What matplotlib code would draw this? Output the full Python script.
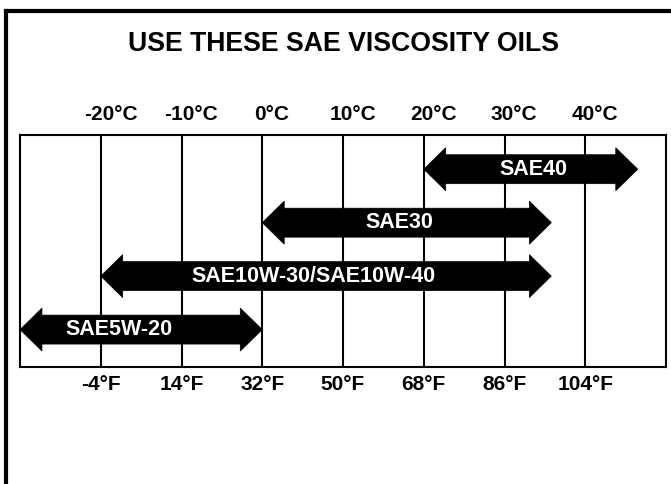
import matplotlib
matplotlib.use("Agg")
import matplotlib.pyplot as plt
import matplotlib.transforms as mtransforms
from matplotlib.patches import Polygon
from matplotlib.lines import Line2D

# ---- data ----
title = "USE THESE SAE VISCOSITY OILS"
celsius_ticks = [-20, -10, 0, 10, 20, 30, 40]
celsius_labels = ["-20°C", "-10°C", "0°C", "10°C", "20°C", "30°C", "40°C"]
fahrenheit_labels = ["-4°F", "14°F", "32°F", "50°F", "68°F", "86°F", "104°F"]
oils = ["SAE40", "SAE30", "SAE10W-30/SAE10W-40", "SAE5W-20"]
temp_low = [20, 0, -20, -30]
temp_high = [46.5, 35.8, 35.8, 0]
label_at = [33.6, 17, 6.4, -17.7]

W, H = 671, 484
fig = plt.figure(figsize=(W / 100, H / 100), dpi=100)
fig.patch.set_facecolor("white")
plt.rcParams['font.family'] = ['Liberation Sans', 'DejaVu Sans']

# outer frame (left and top edges)
fig.add_artist(Line2D([6 / W, 6 / W], [0, 1 - 11 / H], transform=fig.transFigure,
                      color="black", lw=3, solid_capstyle="projecting"))
fig.add_artist(Line2D([6 / W, 1.02], [1 - 11 / H, 1 - 11 / H], transform=fig.transFigure,
                      color="black", lw=3, solid_capstyle="projecting"))

fig.text(343.5 / W, 1 - 44 / H, title, ha="center", va="center",
         fontsize=19.2, fontweight="bold")

left, right, top, bottom = 20, 666, 135, 367
ax = fig.add_axes([left / W, 1 - bottom / H, (right - left) / W, (bottom - top) / H])
ax.set_xlim(-30, 50)
ax.set_ylim(3.7, -0.64)
ax.set_xticks([])
ax.set_yticks([])
for s in ax.spines.values():
    s.set_linewidth(1.5)
for t in celsius_ticks:
    ax.axvline(t, color="black", lw=1.5, zorder=1)

shaft = 0.271
head_h = 0.402
head_l = 2.72
for i, (name, lo, hi, lx) in enumerate(zip(oils, temp_low, temp_high, label_at)):
    pts = [
        (lo, i),
        (lo + head_l, i - head_h),
        (lo + head_l, i - shaft),
        (hi - head_l, i - shaft),
        (hi - head_l, i - head_h),
        (hi, i),
        (hi - head_l, i + head_h),
        (hi - head_l, i + shaft),
        (lo + head_l, i + shaft),
        (lo + head_l, i + head_h),
    ]
    ax.add_patch(Polygon(pts, closed=True, facecolor="black", edgecolor="black",
                         lw=0.5, zorder=3, clip_on=False))
    ax.text(lx, i, name, ha="center", va="center", color="white",
            fontsize=15.5, fontweight="bold", zorder=4)

up = ax.transData + mtransforms.ScaledTranslation(0, 21 / 100, fig.dpi_scale_trans)
down = ax.transData + mtransforms.ScaledTranslation(0, -17 / 100, fig.dpi_scale_trans)
for t, lab in zip(celsius_ticks, celsius_labels):
    ax.text(t + 1.2, -0.64, lab, transform=up, ha="center", va="center",
            fontsize=15, fontweight="bold", clip_on=False)
for t, lab in zip(celsius_ticks, fahrenheit_labels):
    ax.text(t, 3.7, lab, transform=down, ha="center", va="center",
            fontsize=15, fontweight="bold", clip_on=False)

fig.savefig("out.png", dpi=100, facecolor="white")
